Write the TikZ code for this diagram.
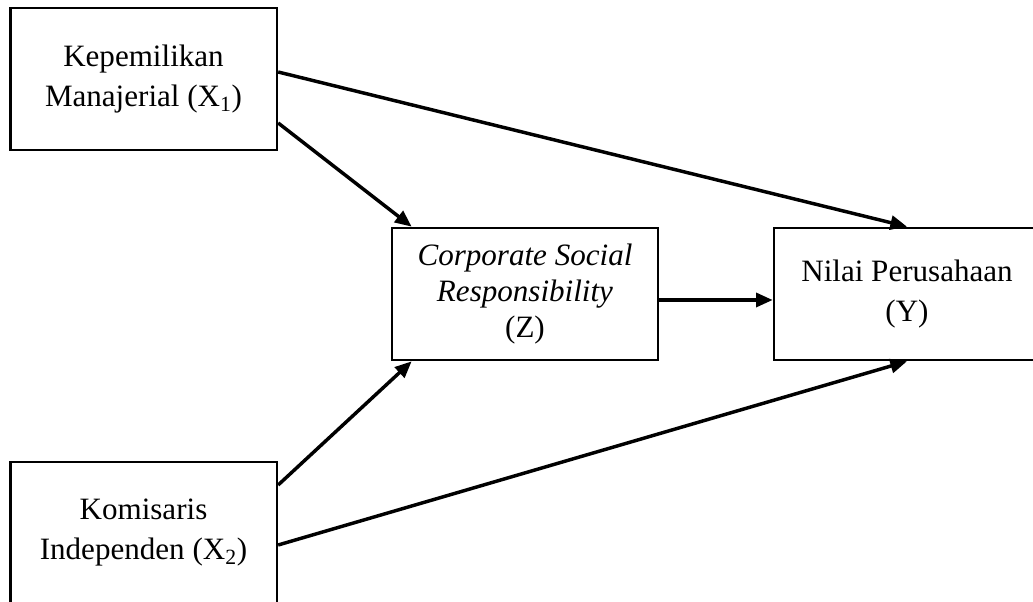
\documentclass[tikz,border=0pt]{standalone}
\usepackage{fontspec}
\setmainfont{Liberation Serif}
\usepackage{tikz}
\usetikzlibrary{arrows.meta, calc, positioning}

\tikzset{
    varbox/.style={draw=black, line width=2pt, align=center, inner sep=0pt,
        font=\fontsize{23.3}{30}\selectfont},
    sidebox/.style={varbox, minimum width=200pt, minimum height=106.5pt},
    midbox/.style={varbox, minimum width=199.5pt, minimum height=99pt},
    path/.style={draw=black, line width=2.6pt, -{Triangle[length=12.5pt, width=10.5pt]}}
}

\begin{document}
\begin{tikzpicture}[x=0.75pt, y=0.75pt]
    \useasboundingbox (0, 0) rectangle (1033, 602);

    % exogenous
    \node[sidebox] (x1) at (143.5, 523) {Kepemilikan\\Manajerial (X\textsubscript{1})};
    \node[sidebox] (x2) at (143.5, 69) {Komisaris\\Independen (X\textsubscript{2})};

    % intervening
    \node[midbox, font=\fontsize{23.3}{27}\selectfont] (z) at (525, 308) {\textit{Corporate Social}\\\textit{Responsibility}\\(Z)};

    % endogenous
    \node[midbox] (y) at (907, 308) {Nilai Perusahaan\\(Y)};

    % paths
    \draw[path] ($(x1.east)+(0, 7)$) -- (y.north);
    \draw[path] ($(x1.east)+(0, -44)$) -- ($(z.north west)+(21, 0)$);
    \draw[path] ($(z.east)+(0, -6)$) -- ($(y.west)+(0, -6)$);
    \draw[path] ($(x2.east)+(0, 48)$) -- ($(z.south west)+(21, 0)$);
    \draw[path] ($(x2.east)+(0, -12)$) -- (y.south);
\end{tikzpicture}
\end{document}
